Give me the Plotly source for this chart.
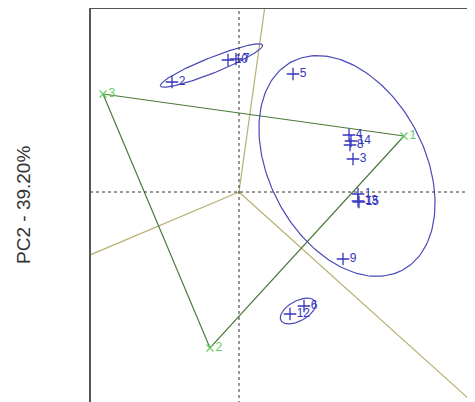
import numpy as np
import plotly.graph_objects as go

# ---- data (PCA scores, plot units) ----
obs_labels = ["2", "10", "7", "5", "4", "8", "14", "3", "1", "13", "15", "9", "6", "12"]
obs_x = [-1.34, -0.22, -0.06, 1.08, 2.20, 2.22, 2.24, 2.28, 2.38, 2.38, 2.40, 2.08, 1.30, 1.02]
obs_y = [2.20, 2.64, 2.66, 2.36, 1.14, 0.94, 1.02, 0.66, -0.04, -0.18, -0.20, -1.34, -2.28, -2.44]

vert_labels = ["1", "2", "3"]
vert_x = [3.30, -0.58, -2.72]
vert_y = [1.12, -3.12, 1.96]

load_x = [0.60, -3.50, 5.00]
load_y = [4.30, -1.48, -4.50]

# ellipses: centre, semi-axes, angle (deg)
ell_cx = [2.16, -0.55, 1.18]
ell_cy = [0.52, 2.53, -2.38]
ell_a = [2.36, 1.10, 0.39]
ell_b = [1.55, 0.155, 0.20]
ell_ang = [-62.0, 21.8, 29.0]

x_range = [-2.98, 4.88]
y_range = [-4.36, 3.68]

BLUE = "#3535c0"
ELL = "#4a4ab8"
GREEN_L = "#66cc66"
GREEN_D = "#4a7a3a"
OLIVE = "#b8b070"
FONT = "Liberation Sans, Arial, sans-serif"

fig = go.Figure()

# loading lines from origin
for lx, ly in zip(load_x, load_y):
    fig.add_trace(go.Scatter(x=[0, lx], y=[0, ly], mode="lines",
                             line=dict(color=OLIVE, width=1.2), hoverinfo="skip"))

# triangle of vertices
tri_x = [vert_x[2], vert_x[0], vert_x[1], vert_x[2]]
tri_y = [vert_y[2], vert_y[0], vert_y[1], vert_y[2]]
fig.add_trace(go.Scatter(x=tri_x, y=tri_y, mode="lines",
                         line=dict(color=GREEN_D, width=1.2), hoverinfo="skip"))
fig.add_trace(go.Scatter(x=vert_x, y=vert_y, mode="markers+text", text=vert_labels,
                         textposition="middle right",
                         textfont=dict(family=FONT, size=12, color=GREEN_L),
                         marker=dict(symbol="x-thin", size=7,
                                     line=dict(color=GREEN_L, width=1.2)),
                         cliponaxis=False))

# ellipses
t = np.linspace(0, 2 * np.pi, 200)
for cx, cy, a, b, ang in zip(ell_cx, ell_cy, ell_a, ell_b, ell_ang):
    th = np.deg2rad(ang)
    ex = cx + a * np.cos(t) * np.cos(th) - b * np.sin(t) * np.sin(th)
    ey = cy + a * np.cos(t) * np.sin(th) + b * np.sin(t) * np.cos(th)
    fig.add_trace(go.Scatter(x=ex, y=ey, mode="lines",
                             line=dict(color=ELL, width=1.2), hoverinfo="skip"))

# observation points
fig.add_trace(go.Scatter(x=obs_x, y=obs_y, mode="markers+text", text=obs_labels,
                         textposition="middle right",
                         textfont=dict(family=FONT, size=12, color=BLUE),
                         marker=dict(symbol="cross-thin", size=9,
                                     line=dict(color=BLUE, width=1.3)),
                         cliponaxis=False))

shapes = [
    dict(type="line", xref="x", yref="paper", x0=0, x1=0, y0=0, y1=1,
         line=dict(color="#333333", width=1, dash="dot")),
    dict(type="line", xref="paper", yref="y", x0=0, x1=1, y0=0, y1=0,
         line=dict(color="#333333", width=1, dash="dot")),
    dict(type="line", xref="paper", yref="paper", x0=0, x1=0, y0=0, y1=1,
         line=dict(color="#555555", width=2)),
    dict(type="line", xref="paper", yref="paper", x0=0, x1=1, y0=1, y1=1,
         line=dict(color="#555555", width=2)),
]

fig.update_layout(
    width=475, height=402,
    margin=dict(l=82, r=0, t=0, b=0),
    paper_bgcolor="white", plot_bgcolor="white",
    showlegend=False,
    shapes=shapes,
    xaxis=dict(range=x_range, showgrid=False, zeroline=False, showticklabels=False,
               ticks="", showline=False),
    yaxis=dict(range=y_range, showgrid=False, zeroline=False, showticklabels=False,
               ticks="", showline=False),
    annotations=[dict(text="PC2 - 39.20%", xref="paper", yref="paper",
                      x=-0.168, y=0.51, xanchor="center", yanchor="middle",
                      textangle=-90, showarrow=False,
                      font=dict(family=FONT, size=19, color="#333333"))],
)

fig.write_html("out.html")
